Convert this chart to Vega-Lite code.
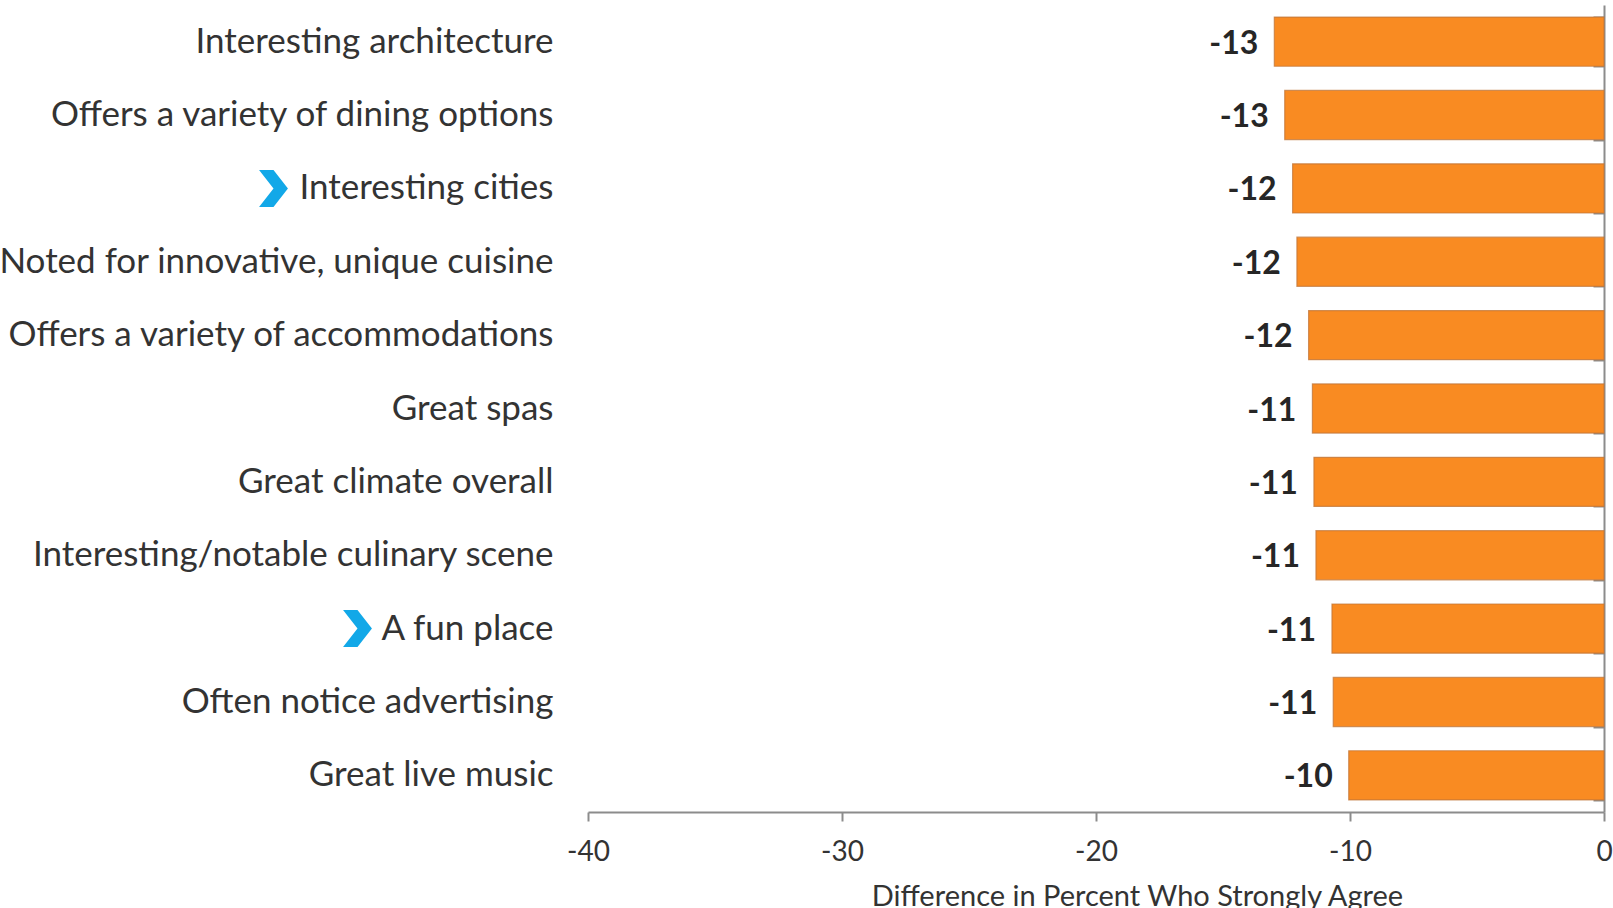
{
  "$schema": "https://vega.github.io/schema/vega-lite/v6.json",
  "width": 1016,
  "height": 807,
  "autosize": "none",
  "padding": {"left": 588, "top": 5, "right": 9, "bottom": 96},
  "background": "white",
  "config": {"view": {"stroke": null}, "font": "Lato"},
  "data": {
    "values": [
      {"attribute": "Interesting architecture", "value": -12.98, "marker": false},
      {"attribute": "Offers a variety of dining options", "value": -12.57, "marker": false},
      {"attribute": "Interesting cities", "value": -12.26, "marker": true},
      {"attribute": "Noted for innovative, unique cuisine", "value": -12.09, "marker": false},
      {"attribute": "Offers a variety of accommodations", "value": -11.63, "marker": false},
      {"attribute": "Great spas", "value": -11.48, "marker": false},
      {"attribute": "Great climate overall", "value": -11.42, "marker": false},
      {"attribute": "Interesting/notable culinary scene", "value": -11.34, "marker": false},
      {"attribute": "A fun place", "value": -10.71, "marker": true},
      {"attribute": "Often notice advertising", "value": -10.66, "marker": false},
      {"attribute": "Great live music", "value": -10.05, "marker": false}
    ]
  },
  "layer": [
    {
      "mark": {"type": "bar", "color": "#F98B22", "stroke": "#C0763A", "strokeWidth": 1.2, "strokeOpacity": 0.75},
      "encoding": {
        "y": {
          "field": "attribute", "type": "nominal", "sort": null,
          "scale": {"paddingInner": 0.33, "paddingOuter": 0.165},
          "axis": {
            "orient": "left", "title": null, "domain": false, "ticks": false,
            "labelFont": "Lato", "labelFontSize": 35, "labelColor": "#333333",
            "labelPadding": 35, "labelLimit": 0
          }
        },
        "x": {
          "field": "value", "type": "quantitative",
          "scale": {"domain": [-40, 0], "nice": false},
          "axis": {
            "values": [-40, -30, -20, -10, 0],
            "grid": false, "domainColor": "#8C8C8C", "domainWidth": 2,
            "tickColor": "#8C8C8C", "tickWidth": 2, "tickSize": 9,
            "labelFont": "Lato", "labelFontSize": 28, "labelColor": "#333333",
            "labelPadding": 17, "labelFlush": false,
            "labelExpr": "replace(datum.label, '−', '-')",
            "title": "Difference in Percent Who Strongly Agree",
            "titleFont": "Lato", "titleFontSize": 29, "titleFontWeight": "normal",
            "titleColor": "#333333", "titleX": 549, "titleY": 93,
            "titleAlign": "center", "titleBaseline": "alphabetic"
          }
        }
      }
    },
    {
      "transform": [{"calculate": "replace(format(datum.value, '.0f'), '−', '-')", "as": "label"}],
      "mark": {"type": "text", "align": "right", "baseline": "middle", "dx": -16, "dy": 2, "font": "Lato", "fontSize": 32, "fontWeight": "bold", "color": "#262626"},
      "encoding": {
        "y": {
          "field": "attribute", "type": "nominal", "sort": null,
          "axis": {
            "orient": "right", "title": null, "labels": false,
            "domain": true, "domainColor": "#8C8C8C", "domainWidth": 2,
            "ticks": true, "tickBand": "extent", "tickSize": -11,
            "tickColor": "#8C8C8C", "tickWidth": 2
          }
        },
        "x": {"field": "value", "type": "quantitative"},
        "text": {"field": "label"}
      }
    },
    {
      "transform": [{"filter": "datum.attribute == 'Interesting cities'"}],
      "mark": {"type": "point", "shape": "M -0.78 -1 L 0 -1 L 0.78 0 L 0 1 L -0.78 1 L 0 0 Z", "filled": true, "color": "#12A8E8", "opacity": 1, "size": 1369, "xOffset": -314.5},
      "encoding": {
        "y": {"field": "attribute", "type": "nominal", "sort": null, "axis": null},
        "x": {"datum": -40, "type": "quantitative"}
      }
    },
    {
      "transform": [{"filter": "datum.attribute == 'A fun place'"}],
      "mark": {"type": "point", "shape": "M -0.78 -1 L 0 -1 L 0.78 0 L 0 1 L -0.78 1 L 0 0 Z", "filled": true, "color": "#12A8E8", "opacity": 1, "size": 1369, "xOffset": -230.5},
      "encoding": {
        "y": {"field": "attribute", "type": "nominal", "sort": null, "axis": null},
        "x": {"datum": -40, "type": "quantitative"}
      }
    }
  ],
  "resolve": {"axis": {"y": "independent"}}
}
